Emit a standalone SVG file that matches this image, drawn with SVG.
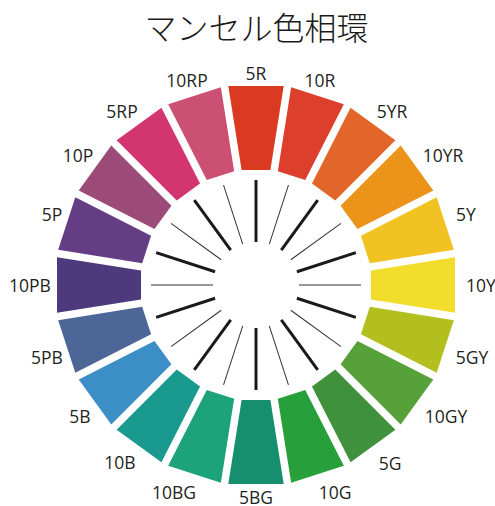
<svg xmlns="http://www.w3.org/2000/svg" xmlns:xlink="http://www.w3.org/1999/xlink" width="495" height="506" viewBox="0 0 495 506">
  <style>
    .title { font-family: "Noto Sans CJK JP", "Noto Sans", sans-serif; font-size: 32px; font-weight: 300; fill: #1a1a1a; text-anchor: middle; }
    .lbl { font-family: "Open Sans", "Liberation Sans", sans-serif; font-size: 17.5px; fill: #231f20; text-anchor: middle; }
    .thick { stroke: #1a1a1a; stroke-width: 3; }
    .thin { stroke: #333333; stroke-width: 1; }
  </style>
  <defs>
    <polygon id="seg" points="-27.7,-199 27.7,-199 14.4,-115 -14.4,-115"/>
    <line id="ray" x1="0" y1="-43" x2="0" y2="-105"/>
  </defs>
  <rect width="495" height="506" fill="#ffffff"/>
  <text class="title" x="256.5" y="40">マンセル色相環</text>

  <g id="connectors">
    <use xlink:href="#ray" class="thick" transform="translate(256,285) rotate(0)"/>
    <use xlink:href="#ray" class="thin" transform="translate(256,285) rotate(18)"/>
    <use xlink:href="#ray" class="thick" transform="translate(256,285) rotate(36)"/>
    <use xlink:href="#ray" class="thin" transform="translate(256,285) rotate(54)"/>
    <use xlink:href="#ray" class="thick" transform="translate(256,285) rotate(72)"/>
    <use xlink:href="#ray" class="thin" transform="translate(256,285) rotate(90)"/>
    <use xlink:href="#ray" class="thick" transform="translate(256,285) rotate(108)"/>
    <use xlink:href="#ray" class="thin" transform="translate(256,285) rotate(126)"/>
    <use xlink:href="#ray" class="thick" transform="translate(256,285) rotate(144)"/>
    <use xlink:href="#ray" class="thin" transform="translate(256,285) rotate(162)"/>
    <use xlink:href="#ray" class="thick" transform="translate(256,285) rotate(180)"/>
    <use xlink:href="#ray" class="thin" transform="translate(256,285) rotate(198)"/>
    <use xlink:href="#ray" class="thick" transform="translate(256,285) rotate(216)"/>
    <use xlink:href="#ray" class="thin" transform="translate(256,285) rotate(234)"/>
    <use xlink:href="#ray" class="thick" transform="translate(256,285) rotate(252)"/>
    <use xlink:href="#ray" class="thin" transform="translate(256,285) rotate(270)"/>
    <use xlink:href="#ray" class="thick" transform="translate(256,285) rotate(288)"/>
    <use xlink:href="#ray" class="thin" transform="translate(256,285) rotate(306)"/>
    <use xlink:href="#ray" class="thick" transform="translate(256,285) rotate(324)"/>
    <use xlink:href="#ray" class="thin" transform="translate(256,285) rotate(342)"/>
  </g>

  <g id="h5R"><use xlink:href="#seg" fill="#DA3A22" transform="translate(256,285) rotate(0)"/><text class="lbl" x="256" y="80">5R</text></g>
  <g id="h10R"><use xlink:href="#seg" fill="#DC3F2B" transform="translate(256,285) rotate(18)"/><text class="lbl" x="320" y="87">10R</text></g>
  <g id="h5YR"><use xlink:href="#seg" fill="#E2652A" transform="translate(256,285) rotate(36)"/><text class="lbl" x="392" y="118">5YR</text></g>
  <g id="h10YR"><use xlink:href="#seg" fill="#EC9319" transform="translate(256,285) rotate(54)"/><text class="lbl" x="443" y="162">10YR</text></g>
  <g id="h5Y"><use xlink:href="#seg" fill="#F0C222" transform="translate(256,285) rotate(72)"/><text class="lbl" x="466" y="221">5Y</text></g>
  <g id="h10Y"><use xlink:href="#seg" fill="#F2DD2C" transform="translate(256,285) rotate(90)"/><text class="lbl" x="466" y="292" style="text-anchor:start">10Y</text></g>
  <g id="h5GY"><use xlink:href="#seg" fill="#B2BF1F" transform="translate(256,285) rotate(108)"/><text class="lbl" x="472" y="364">5GY</text></g>
  <g id="h10GY"><use xlink:href="#seg" fill="#56A13A" transform="translate(256,285) rotate(126)"/><text class="lbl" x="446" y="423">10GY</text></g>
  <g id="h5G"><use xlink:href="#seg" fill="#3F913C" transform="translate(256,285) rotate(144)"/><text class="lbl" x="390" y="470">5G</text></g>
  <g id="h10G"><use xlink:href="#seg" fill="#27A03C" transform="translate(256,285) rotate(162)"/><text class="lbl" x="335" y="499">10G</text></g>
  <g id="h5BG"><use xlink:href="#seg" fill="#168F6E" transform="translate(256,285) rotate(180)"/><text class="lbl" x="256" y="503.5">5BG</text></g>
  <g id="h10BG"><use xlink:href="#seg" fill="#1DA37A" transform="translate(256,285) rotate(198)"/><text class="lbl" x="174" y="499">10BG</text></g>
  <g id="h10B"><use xlink:href="#seg" fill="#1A9A8F" transform="translate(256,285) rotate(216)"/><text class="lbl" x="120" y="469">10B</text></g>
  <g id="h5B"><use xlink:href="#seg" fill="#3C8EC6" transform="translate(256,285) rotate(234)"/><text class="lbl" x="80" y="423">5B</text></g>
  <g id="h5PB"><use xlink:href="#seg" fill="#4C6698" transform="translate(256,285) rotate(252)"/><text class="lbl" x="47" y="364">5PB</text></g>
  <g id="h10PB"><use xlink:href="#seg" fill="#4D3A7D" transform="translate(256,285) rotate(270)"/><text class="lbl" x="30" y="292">10PB</text></g>
  <g id="h5P"><use xlink:href="#seg" fill="#643D85" transform="translate(256,285) rotate(288)"/><text class="lbl" x="52" y="221">5P</text></g>
  <g id="h10P"><use xlink:href="#seg" fill="#9C4A78" transform="translate(256,285) rotate(306)"/><text class="lbl" x="78" y="162">10P</text></g>
  <g id="h5RP"><use xlink:href="#seg" fill="#D3356E" transform="translate(256,285) rotate(324)"/><text class="lbl" x="122" y="118">5RP</text></g>
  <g id="h10RP"><use xlink:href="#seg" fill="#CC5073" transform="translate(256,285) rotate(342)"/><text class="lbl" x="187" y="87">10RP</text></g>
</svg>
